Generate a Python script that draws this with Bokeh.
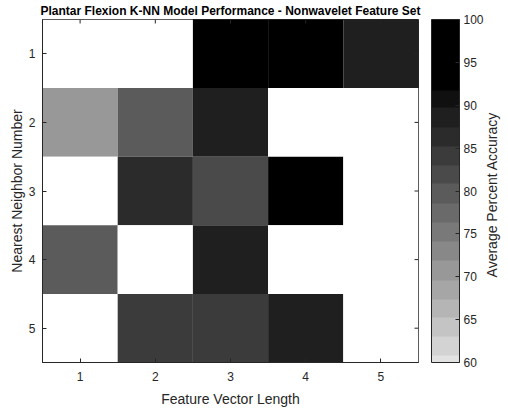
import numpy as np
from bokeh.plotting import figure
from bokeh.models import (ColumnDataSource, LinearColorMapper, ColorBar, FixedTicker,
                          Range1d, LinearAxis)
from bokeh.embed import file_html
from bokeh.resources import INLINE

# ---- data ----
feature_lengths = [1, 2, 3, 4, 5]
neighbor_numbers = [1, 2, 3, 4, 5]
nan = float("nan")
acc_k1 = [nan, nan, 95.2, 96.0, 88.6]
acc_k2 = [70.8, 79.7, 88.6, nan, nan]
acc_k3 = [nan, 86.3, 81.9, 94.4, nan]
acc_k4 = [79.7, nan, 88.6, nan, nan]
acc_k5 = [nan, 84.1, 84.1, 88.6, nan]
accuracy_rows = [acc_k1, acc_k2, acc_k3, acc_k4, acc_k5]
cbar_ticks = [60, 65, 70, 75, 80, 85, 90, 95, 100]

title_text = "Plantar Flexion K-NN Model Performance - Nonwavelet Feature Set"
xlabel = "Feature Vector Length"
ylabel = "Nearest Neighbor Number"
clabel = "Average Percent Accuracy"

# ---- colormap (discrete gray bands) ----
band_edges = [60, 60.8, 63.0, 65.2, 67.4, 69.6, 71.9, 74.1, 76.3, 78.6, 80.85,
              83.0, 85.2, 87.4, 89.7, 91.7, 100]
band_gray = [0xe2, 0xd3, 0xc4, 0xb5, 0xa6, 0x98, 0x88, 0x79, 0x6a, 0x5b, 0x4a,
             0x3b, 0x2b, 0x1f, 0x10, 0x00]
N = 800
palette = []
for i in range(N):
    v = 60 + (i + 0.5) * 40.0 / N
    idx = 0
    for b in range(len(band_gray)):
        if band_edges[b] <= v < band_edges[b + 1]:
            idx = b
            break
    g = band_gray[idx]
    palette.append("#%02x%02x%02x" % (g, g, g))

mapper = LinearColorMapper(palette=palette, low=60, high=100, nan_color="white")

xs, ys, vals = [], [], []
for r, k in enumerate(neighbor_numbers):
    for c, f in enumerate(feature_lengths):
        xs.append(f)
        ys.append(k)
        vals.append(accuracy_rows[r][c])
src = ColumnDataSource(dict(x=xs, y=ys, v=np.array(vals, dtype=float)))

FONT = "Liberation Sans"
AX = "#262626"
X0, X1 = 0.5, 5.5
Y_TOP, Y_BOT = 0.5, 5.5
FRAME_H = 343

p = figure(frame_width=376, frame_height=FRAME_H, output_backend="svg",
           toolbar_location=None,
           x_range=Range1d(X0, X1), y_range=Range1d(Y_BOT, Y_TOP),
           min_border_left=42, min_border_right=0, min_border_top=0,
           min_border_bottom=0, title=title_text)
p.rect(x="x", y="y", width=1, height=1, source=src,
       fill_color={"field": "v", "transform": mapper}, line_color=None)

# mirrored inward tick marks on the top and right edges
p.ray(x=feature_lengths, y=[Y_TOP] * len(feature_lengths), length=4,
      length_units="screen", angle=-np.pi / 2, line_color=AX, line_width=1)
p.ray(x=[X1] * len(neighbor_numbers), y=neighbor_numbers, length=4,
      length_units="screen", angle=np.pi, line_color=AX, line_width=1)

p.title.align = "center"
p.title.text_font = FONT
p.title.text_font_size = "12px"
p.title.text_font_style = "bold"
p.title.text_color = "black"
p.title.standoff = 3

p.xgrid.visible = False
p.ygrid.visible = False
p.outline_line_color = AX
p.background_fill_color = "white"


def style_axis(ax):
    ax.ticker = FixedTicker(ticks=[1, 2, 3, 4, 5])
    ax.major_tick_in = 4
    ax.major_tick_out = 0
    ax.minor_tick_line_color = None
    ax.axis_line_color = AX
    ax.major_tick_line_color = AX
    ax.major_label_text_font = FONT
    ax.major_label_text_font_size = "12px"
    ax.major_label_text_color = AX
    ax.axis_label_text_font = FONT
    ax.axis_label_text_font_size = "14px"
    ax.axis_label_text_font_style = "normal"
    ax.axis_label_text_color = AX


style_axis(p.xaxis[0])
style_axis(p.yaxis[0])
p.xaxis[0].axis_label = xlabel
p.yaxis[0].axis_label = ylabel
p.xaxis[0].major_label_standoff = 9
p.xaxis[0].axis_label_standoff = 7
p.yaxis[0].major_label_standoff = 7
p.yaxis[0].axis_label_standoff = 1
p.yaxis[0].major_label_orientation = "horizontal"

cb = ColorBar(color_mapper=mapper, ticker=FixedTicker(ticks=cbar_ticks),
              width=28, height=FRAME_H, padding=0, margin=0,
              location=(13, 0),
              major_tick_in=4, major_tick_out=0, major_tick_line_color=AX,
              major_label_text_font=FONT, major_label_text_font_size="12px",
              major_label_text_color=AX, label_standoff=4,
              bar_line_color=AX, border_line_color=None,
              background_fill_alpha=0)
p.add_layout(cb, "right")

# colour bar label: one rotated tick label (reads bottom-to-top, starts at tick)
px_per_unit = FRAME_H / (Y_BOT - Y_TOP)
label_len = 173.0
lab_pos = round((Y_TOP + Y_BOT) / 2.0 + label_len / 2.0 / px_per_unit, 2)
lab_ax = LinearAxis(ticker=FixedTicker(ticks=[lab_pos]),
                    major_label_overrides={lab_pos: clabel},
                    major_label_orientation=np.pi / 2,
                    axis_line_color=None, major_tick_line_color=None,
                    minor_tick_line_color=None, major_tick_in=0, major_tick_out=0,
                    major_label_standoff=6,
                    major_label_text_font=FONT, major_label_text_font_size="14px",
                    major_label_text_color=AX)
p.add_layout(lab_ax, "right")

open("out.html", "w").write(file_html(p, INLINE))
